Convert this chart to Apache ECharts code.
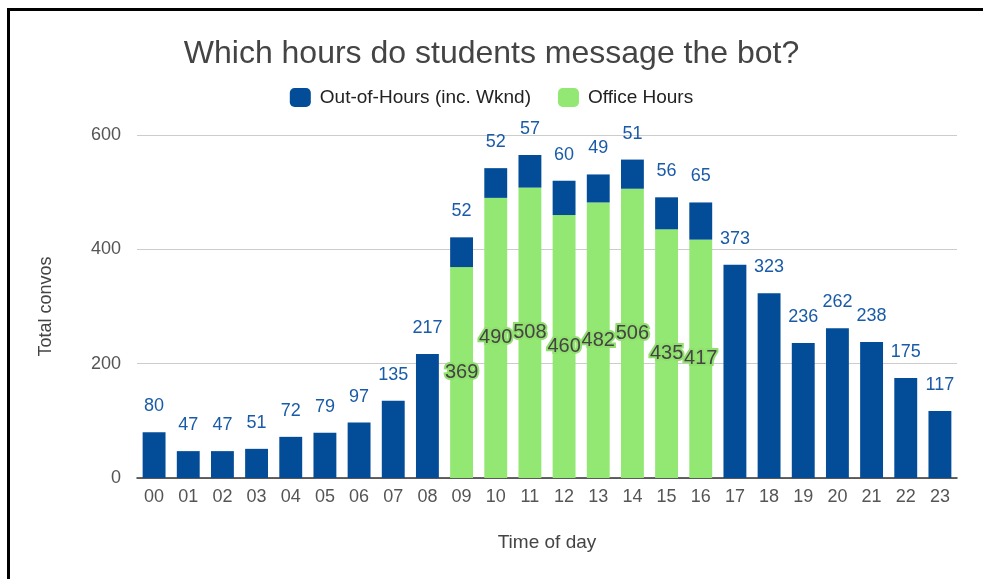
<!DOCTYPE html>
<html>
<head>
<meta charset="utf-8">
<script src="https://cdn.jsdelivr.net/npm/echarts@6/dist/echarts.min.js"></script>
<style>
  html, body { margin: 0; padding: 0; background: #fff; }
  #frame {
    position: absolute; left: 7px; top: 8px; width: 990px; height: 600px;
    border-top: 3px solid #000; border-left: 3px solid #000;
  }
  #chart { position: absolute; left: 0; top: 0; width: 983px; height: 579px; }
</style>
</head>
<body>
<div id="frame"></div>
<div id="chart"></div>
<script>
// hours of the day
const hours = ['00', '01', '02', '03', '04', '05', '06', '07', '08', '09', '10', '11',
  '12', '13', '14', '15', '16', '17', '18', '19', '20', '21', '22', '23']
// conversations during office hours (09-16 only)
const officeHours = [null, null, null, null, null, null, null, null, null,
  369, 490, 508, 460, 482, 506, 435, 417,
  null, null, null, null, null, null, null]
// conversations out of hours (incl. weekend)
const outOfHours = [80, 47, 47, 51, 72, 79, 97, 135, 217,
  52, 52, 57, 60, 49, 51, 56, 65,
  373, 323, 236, 262, 238, 175, 117]
const yTicks = [0, 200, 400, 600]

const font = '"Liberation Sans", Arial, sans-serif'
const chart = echarts.init(document.getElementById('chart'))

chart.setOption({
  animation: false,
  textStyle: { fontFamily: font },
  title: {
    text: 'Which hours do students message the bot?',
    left: 'center',
    top: 33,
    textStyle: { fontSize: 32, fontWeight: 'normal', color: '#444', fontFamily: font }
  },
  legend: {
    top: 83,
    left: 'center',
    itemWidth: 21,
    itemHeight: 19,
    itemGap: 27,
    icon: 'roundRect',
    data: ['Out-of-Hours (inc. Wknd)', 'Office Hours'],
    textStyle: { fontSize: 19, color: '#222', padding: [0, 0, 0, 4] }
  },
  grid: { left: 137, right: 26, top: 135, bottom: 101 },
  xAxis: {
    type: 'category',
    data: hours,
    name: 'Time of day',
    nameLocation: 'middle',
    nameGap: 55,
    nameTextStyle: { fontSize: 19, color: '#444' },
    axisTick: { show: false },
    axisLine: { lineStyle: { color: '#333', width: 1.5 } },
    axisLabel: { fontSize: 18, color: '#555', margin: 10, interval: 0 }
  },
  yAxis: {
    type: 'value',
    min: yTicks[0],
    max: yTicks[yTicks.length - 1],
    interval: 200,
    name: 'Total convos',
    nameLocation: 'middle',
    nameGap: 82,
    nameTextStyle: { fontSize: 18, color: '#444' },
    axisLabel: { fontSize: 18, color: '#555', margin: 16 },
    splitLine: { lineStyle: { color: '#ccc' } }
  },
  series: [
    {
      name: 'Office Hours',
      type: 'bar',
      stack: 'total',
      barCategoryGap: '33%',
      data: officeHours,
      itemStyle: { color: '#92e872' },
      label: {
        show: true,
        position: 'inside',
        fontSize: 20,
        color: '#444',
        textBorderColor: '#8fe06c',
        textBorderWidth: 4
      }
    },
    {
      name: 'Out-of-Hours (inc. Wknd)',
      type: 'bar',
      stack: 'total',
      barCategoryGap: '33%',
      data: outOfHours,
      itemStyle: { color: '#024c98' },
      label: {
        show: true,
        position: 'top',
        distance: 17,
        fontSize: 18,
        color: '#1a5ba8'
      }
    }
  ]
})
</script>
</body>
</html>
